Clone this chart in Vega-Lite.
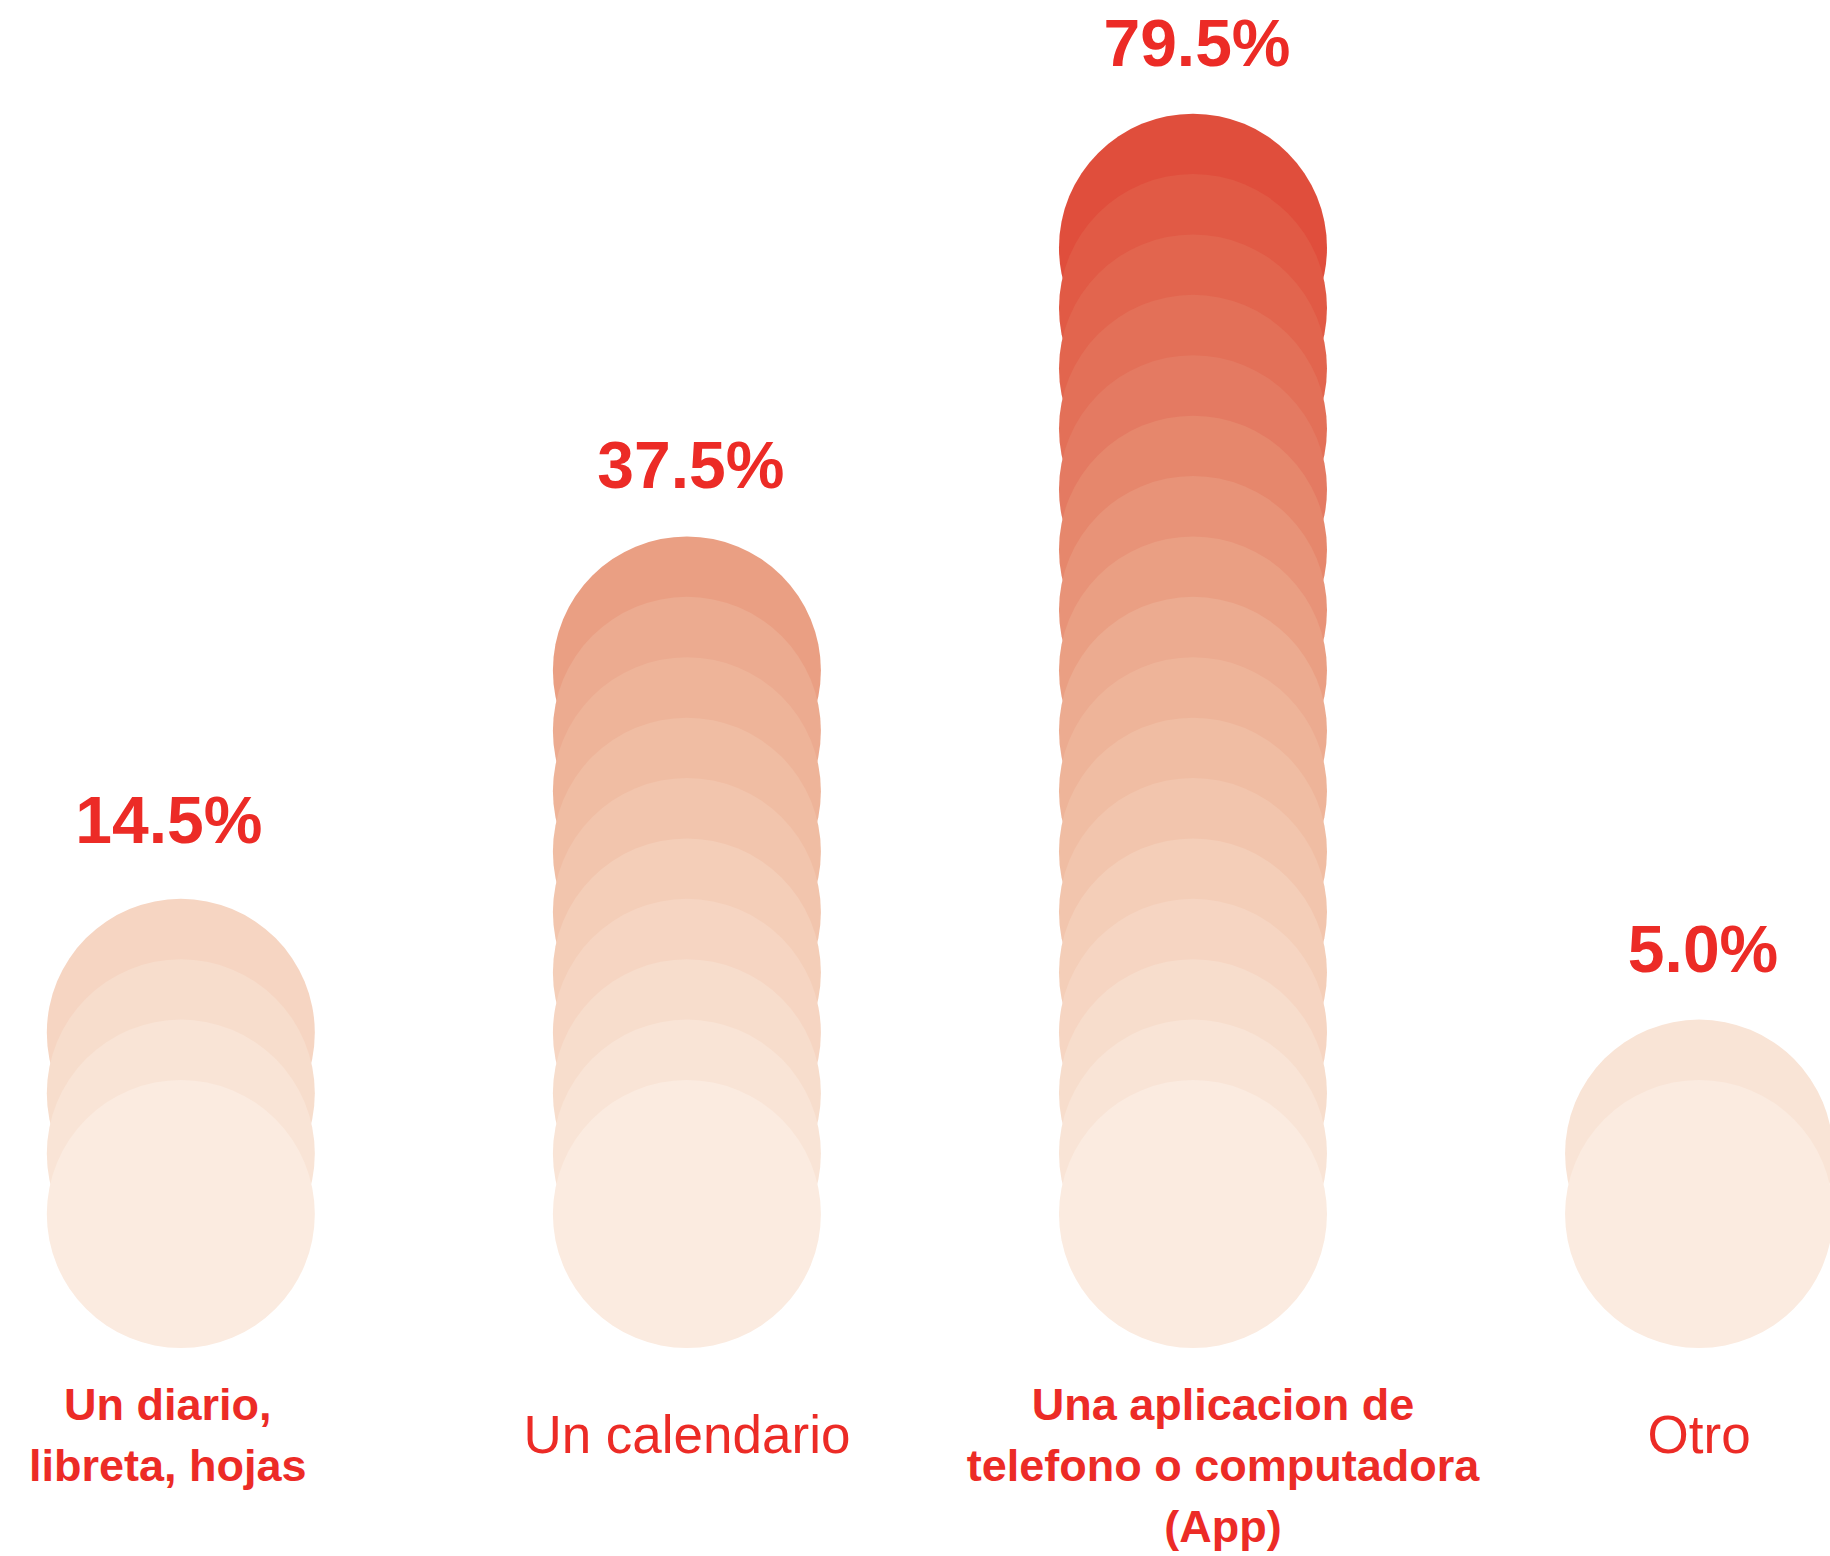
{
  "$schema": "https://vega.github.io/schema/vega-lite/v6.json",
  "width": 1830,
  "height": 1556,
  "autosize": {"type": "none"},
  "padding": 0,
  "background": "white",
  "config": {"view": {"stroke": null}, "font": "Liberation Sans"},
  "datasets": {
    "circles": [
      {"cat": "Un diario, libreta, hojas", "level": 4},
      {"cat": "Un diario, libreta, hojas", "level": 3},
      {"cat": "Un diario, libreta, hojas", "level": 2},
      {"cat": "Un diario, libreta, hojas", "level": 1},
      {"cat": "Un calendario", "level": 10},
      {"cat": "Un calendario", "level": 9},
      {"cat": "Un calendario", "level": 8},
      {"cat": "Un calendario", "level": 7},
      {"cat": "Un calendario", "level": 6},
      {"cat": "Un calendario", "level": 5},
      {"cat": "Un calendario", "level": 4},
      {"cat": "Un calendario", "level": 3},
      {"cat": "Un calendario", "level": 2},
      {"cat": "Un calendario", "level": 1},
      {"cat": "Una aplicacion de telefono o computadora (App)", "level": 17},
      {"cat": "Una aplicacion de telefono o computadora (App)", "level": 16},
      {"cat": "Una aplicacion de telefono o computadora (App)", "level": 15},
      {"cat": "Una aplicacion de telefono o computadora (App)", "level": 14},
      {"cat": "Una aplicacion de telefono o computadora (App)", "level": 13},
      {"cat": "Una aplicacion de telefono o computadora (App)", "level": 12},
      {"cat": "Una aplicacion de telefono o computadora (App)", "level": 11},
      {"cat": "Una aplicacion de telefono o computadora (App)", "level": 10},
      {"cat": "Una aplicacion de telefono o computadora (App)", "level": 9},
      {"cat": "Una aplicacion de telefono o computadora (App)", "level": 8},
      {"cat": "Una aplicacion de telefono o computadora (App)", "level": 7},
      {"cat": "Una aplicacion de telefono o computadora (App)", "level": 6},
      {"cat": "Una aplicacion de telefono o computadora (App)", "level": 5},
      {"cat": "Una aplicacion de telefono o computadora (App)", "level": 4},
      {"cat": "Una aplicacion de telefono o computadora (App)", "level": 3},
      {"cat": "Una aplicacion de telefono o computadora (App)", "level": 2},
      {"cat": "Una aplicacion de telefono o computadora (App)", "level": 1},
      {"cat": "Otro", "level": 2},
      {"cat": "Otro", "level": 1}
    ],
    "cats": [
      {"cat": "Un diario, libreta, hojas", "pct": 0.145, "n": 4, "label": "Un diario,\nlibreta, hojas"},
      {"cat": "Un calendario", "pct": 0.375, "n": 10, "label": "Un calendario"},
      {"cat": "Una aplicacion de telefono o computadora (App)", "pct": 0.795, "n": 17, "label": "Una aplicacion de\ntelefono o computadora\n(App)"},
      {"cat": "Otro", "pct": 0.05, "n": 2, "label": "Otro"}
    ]
  },
  "encoding": {
    "x": {
      "field": "cat",
      "type": "nominal",
      "scale": {
        "type": "point",
        "domain": ["Un diario, libreta, hojas", "Un calendario", "Una aplicacion de telefono o computadora (App)", "Otro"],
        "range": [0, 1830],
        "padding": 0.308,
        "align": 0.58
      },
      "axis": null
    }
  },
  "layer": [
    {
      "data": {"name": "circles"},
      "mark": {"type": "circle", "size": 71824, "opacity": 1, "strokeWidth": 0},
      "encoding": {
        "y": {"field": "level", "type": "quantitative", "scale": {"domain": [-4.662, 21.1], "nice": false, "zero": false}, "axis": null},
        "color": {
          "field": "level",
          "type": "quantitative",
          "scale": {"domain": [1, 5, 9, 13, 17], "range": ["#FBEBE0", "#F4CEB8", "#ECAB90", "#E47A62", "#E04E3C"]},
          "legend": null
        }
      }
    },
    {
      "data": {"name": "cats"},
      "transform": [{"filter": "datum.cat !== 'Un diario, libreta, hojas'"}],
      "mark": {"type": "text", "fontSize": 66, "fontWeight": "bold", "color": "#EC2B26", "baseline": "alphabetic", "align": "center", "dy": -182, "dx": 4},
      "encoding": {
        "y": {"field": "n", "type": "quantitative"},
        "text": {"field": "pct", "type": "quantitative", "format": ".1%"}
      }
    },
    {
      "data": {"name": "cats"},
      "transform": [{"filter": "datum.cat === 'Un diario, libreta, hojas'"}],
      "mark": {"type": "text", "fontSize": 66, "fontWeight": "bold", "color": "#EC2B26", "baseline": "alphabetic", "align": "center", "dy": -190, "dx": -12},
      "encoding": {
        "y": {"field": "n", "type": "quantitative"},
        "text": {"field": "pct", "type": "quantitative", "format": ".1%"}
      }
    },
    {
      "data": {"name": "cats"},
      "transform": [{"filter": "datum.cat === 'Un diario, libreta, hojas'"}],
      "mark": {"type": "text", "fontSize": 45, "fontWeight": "bold", "color": "#EC2B26", "baseline": "top", "align": "center", "lineBreak": "\n", "lineHeight": 61, "dx": -13},
      "encoding": {
        "y": {"datum": -1.815, "type": "quantitative"},
        "text": {"field": "label", "type": "nominal"}
      }
    },
    {
      "data": {"name": "cats"},
      "transform": [{"filter": "datum.cat === 'Una aplicacion de telefono o computadora (App)'"}],
      "mark": {"type": "text", "fontSize": 45, "fontWeight": "bold", "color": "#EC2B26", "baseline": "top", "align": "center", "lineBreak": "\n", "lineHeight": 61, "dx": 30},
      "encoding": {
        "y": {"datum": -1.815, "type": "quantitative"},
        "text": {"field": "label", "type": "nominal"}
      }
    },
    {
      "data": {"name": "cats"},
      "transform": [{"filter": "datum.cat === 'Un calendario' || datum.cat === 'Otro'"}],
      "mark": {"type": "text", "fontSize": 53, "fontWeight": "normal", "color": "#EC2B26", "baseline": "alphabetic", "align": "center"},
      "encoding": {
        "y": {"datum": -2.957, "type": "quantitative"},
        "text": {"field": "label", "type": "nominal"}
      }
    }
  ]
}
